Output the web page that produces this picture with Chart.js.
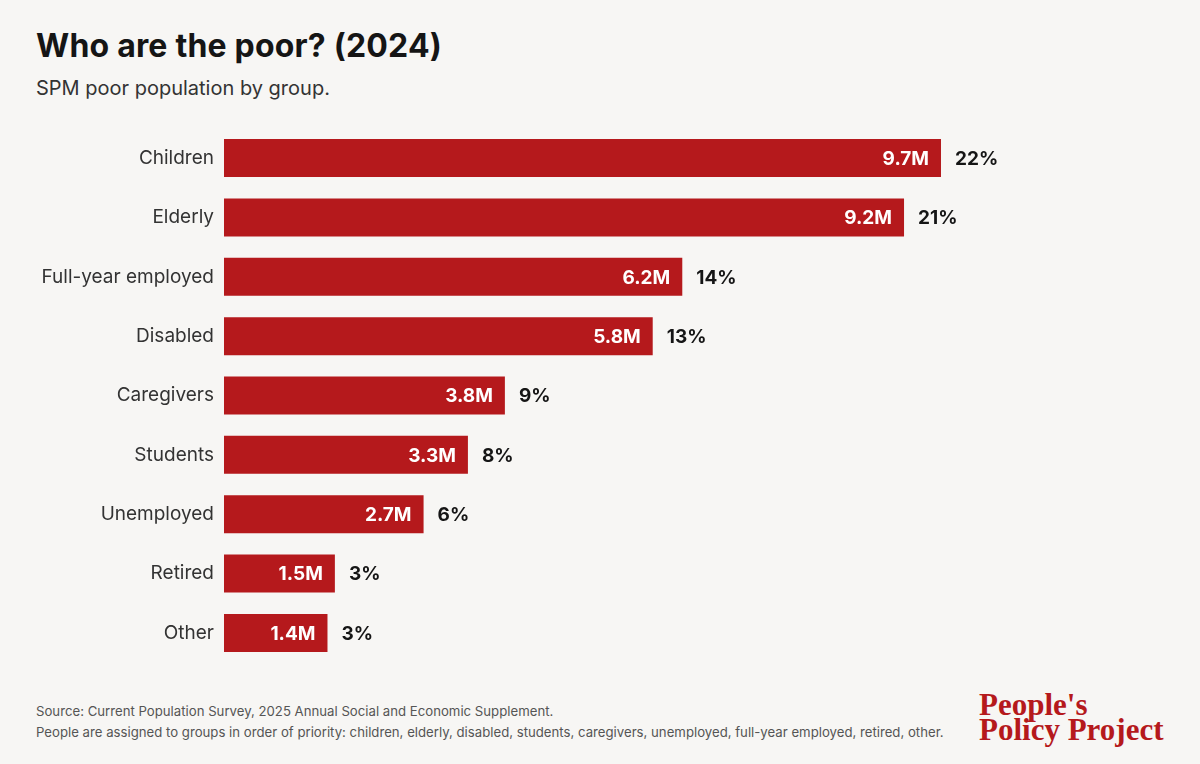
<!DOCTYPE html>
<html>
<head>
<meta charset="utf-8">
<script src="https://cdn.jsdelivr.net/npm/chart.js@4"></script>
<style>
  html, body { margin: 0; padding: 0; background: #f7f6f4; }
  body { width: 1200px; height: 764px; position: relative; overflow: hidden; font-family: Inter, "Liberation Sans", sans-serif; }
  #title { position: absolute; left: 36px; top: 26px; font-size: 32px; font-weight: 700; color: #151515; letter-spacing: 0.2px; }
  #subtitle { position: absolute; left: 36px; top: 76px; font-size: 20px; color: #333; }
  #wrap { position: absolute; left: 0; top: 107px; width: 1200px; height: 577px; }
  .note { position: absolute; left: 36px; font-size: 13.2px; color: #555; }
  #logo { position: absolute; left: 979px; top: 692px; font-family: "Liberation Serif", "DejaVu Serif", serif; font-weight: 700; font-size: 31px; line-height: 25px; color: #b5191c; }
</style>
</head>
<body>
<div id="title">Who are the poor? (2024)</div>
<div id="subtitle">SPM poor population by group.</div>
<div id="wrap"><canvas id="chart"></canvas></div>
<div class="note" style="top:703px">Source: Current Population Survey, 2025 Annual Social and Economic Supplement.</div>
<div class="note" style="top:724px">People are assigned to groups in order of priority: children, elderly, disabled, students, caregivers, unemployed, full-year employed, retired, other.</div>
<div id="logo">People's<br>Policy Project</div>
<script>
const groups = ['Children', 'Elderly', 'Full-year employed', 'Disabled', 'Caregivers', 'Students', 'Unemployed', 'Retired', 'Other']
const millions = [9.7, 9.2, 6.2, 5.8, 3.8, 3.3, 2.7, 1.5, 1.4]
const shares = [22, 21, 14, 13, 9, 8, 6, 3, 3]

const barRed = '#b5191c'

// labels on and after each bar
const barLabels = {
    id: 'barLabels',
    afterDatasetsDraw(chart) {
        const ctx = chart.ctx
        const meta = chart.getDatasetMeta(0)
        ctx.save()
        ctx.font = '700 19px Inter, "Liberation Sans", sans-serif'
        ctx.textBaseline = 'middle'
        meta.data.forEach((bar, i) => {
            ctx.fillStyle = '#ffffff'
            ctx.textAlign = 'right'
            ctx.fillText(millions[i].toFixed(1) + 'M', bar.x - 12, bar.y + 1)
            ctx.fillStyle = '#151515'
            ctx.textAlign = 'left'
            ctx.fillText(shares[i] + '%', bar.x + 14, bar.y + 1)
        })
        ctx.restore()
    }
}

new Chart(document.getElementById('chart'), {
    type: 'bar',
    data: {
        labels: groups,
        datasets: [{
            data: millions,
            backgroundColor: barRed,
            borderWidth: 0,
            categoryPercentage: 0.64,
            barPercentage: 1
        }]
    },
    options: {
        indexAxis: 'y',
        responsive: true,
        maintainAspectRatio: false,
        animation: false,
        layout: { padding: { left: 0, right: 89, top: 0, bottom: 0 } },
        scales: {
            x: {
                display: false,
                min: 0,
                max: 12
            },
            y: {
                afterFit: (scale) => { scale.width = 224 },
                grid: { display: false, drawTicks: false },
                border: { display: false },
                ticks: {
                    color: '#333',
                    padding: 10,
                    font: { family: 'Inter, "Liberation Sans", sans-serif', size: 19 }
                }
            }
        },
        plugins: {
            legend: { display: false },
            tooltip: { enabled: false }
        }
    },
    plugins: [barLabels]
});
</script>
</body>
</html>
